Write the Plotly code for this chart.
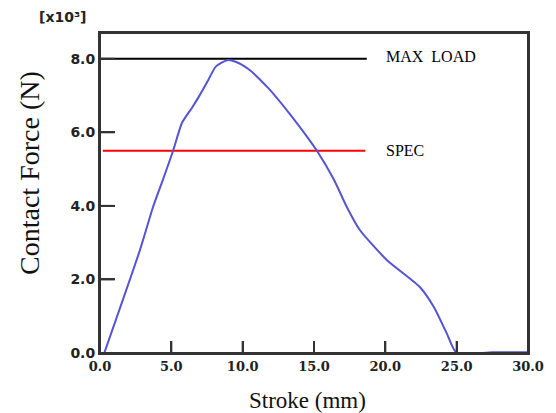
import plotly.graph_objects as go

# Data
stroke = [0.3, 2.8, 3.7, 4.4, 5.1, 5.75, 6.45, 6.9, 7.6, 8.1, 8.9, 9.5, 10.4, 11.8, 13.2,
          14.3, 15.25, 16.4, 17.3, 18.2, 20.1, 22.4, 23.4, 24.3, 25.0, 27.5, 30.0]
force = [0.0, 2.8, 3.95, 4.7, 5.47, 6.26, 6.67, 6.95, 7.43, 7.78, 7.96, 7.92, 7.72, 7.2, 6.55,
         5.99, 5.47, 4.71, 3.97, 3.35, 2.53, 1.8, 1.25, 0.54, 0.0, 0.02, 0.02]

max_load_x = [0.0, 18.7]
max_load_y = [8.0, 8.0]
spec_x = [0.2, 18.6]
spec_y = [5.5, 5.5]

x_ticks = [0, 5, 10, 15, 20, 25, 30]
y_ticks = [0, 2, 4, 6, 8]
x_range = [0, 30]
y_range = [0, 8.7]

AXIS_COLOR = "#333333"
PLOT_W, PLOT_H = 434, 320  # plot-area size in px (width/height minus margins)
X_TICK_LEN_PX, Y_TICK_LEN_PX = 12, 15

fig = go.Figure()
fig.add_trace(go.Scatter(x=max_load_x, y=max_load_y, mode="lines",
                         line=dict(color="#000000", width=2), showlegend=False))
fig.add_trace(go.Scatter(x=spec_x, y=spec_y, mode="lines",
                         line=dict(color="#ff0000", width=2), showlegend=False))
fig.add_trace(go.Scatter(x=stroke, y=force, mode="lines",
                         line=dict(color="#5454d4", width=2, shape="spline", smoothing=0.6),
                         showlegend=False))

# Inside tick marks, built from the tick lists and converted through the axis scales
x_tick_len = X_TICK_LEN_PX / PLOT_H * (y_range[1] - y_range[0])
y_tick_len = Y_TICK_LEN_PX / PLOT_W * (x_range[1] - x_range[0])
tick_x, tick_y = [], []
for v in x_ticks[1:-1]:
    tick_x += [v, v, None]
    tick_y += [y_range[0], y_range[0] + x_tick_len, None]
for v in y_ticks[1:]:
    tick_x += [x_range[0], x_range[0] + y_tick_len, None]
    tick_y += [v, v, None]
fig.add_trace(go.Scatter(x=tick_x, y=tick_y, mode="lines", connectgaps=False,
                         line=dict(color=AXIS_COLOR, width=2), showlegend=False,
                         hoverinfo="skip"))

serif = "Liberation Serif"
dserif = "DejaVu Serif"
sans = "DejaVu Sans"

fig.add_annotation(x=19.9, y=8.05, xref="x", yref="y", text="MAX  LOAD", showarrow=False,
                   xanchor="left", yanchor="middle", font=dict(family=serif, size=16, color="#000"))
fig.add_annotation(x=19.9, y=5.5, xref="x", yref="y", text="SPEC", showarrow=False,
                   xanchor="left", yanchor="middle", font=dict(family=serif, size=16, color="#000"))
fig.add_annotation(x=-0.088, y=1.05, xref="paper", yref="paper", text="<b>[x10³]</b>",
                   showarrow=False, xanchor="center", yanchor="middle",
                   font=dict(family=sans, size=14, color="#222"))
fig.add_annotation(x=-0.166, y=0.5625, xref="paper", yref="paper", text="Contact Force (N)",
                   showarrow=False, textangle=-90, xanchor="center", yanchor="middle",
                   font=dict(family=serif, size=28, color="#111"))
fig.add_annotation(x=0.485, y=-0.147, xref="paper", yref="paper", text="Stroke (mm)",
                   showarrow=False, xanchor="center", yanchor="middle",
                   font=dict(family=serif, size=23, color="#111"))

# Plot frame
fig.add_shape(type="rect", xref="paper", yref="paper", x0=0, x1=1, y0=0, y1=1,
              line=dict(color=AXIS_COLOR, width=2), layer="above")

fig.update_xaxes(range=x_range, tickvals=x_ticks, ticktext=["<b>%.1f</b>" % v for v in x_ticks],
                 ticks="inside", ticklen=12, tickwidth=2, tickcolor=AXIS_COLOR,
                 showline=True, linecolor=AXIS_COLOR, linewidth=2, mirror=True,
                 showgrid=False, zeroline=False,
                 tickfont=dict(family=dserif, size=13, color="#222"))
fig.update_yaxes(range=y_range, tickvals=y_ticks, ticktext=["<b>%.1f</b>" % v for v in y_ticks],
                 ticks="inside", ticklen=15, tickwidth=2, tickcolor=AXIS_COLOR,
                 showline=True, linecolor=AXIS_COLOR, linewidth=2, mirror=True,
                 showgrid=False, zeroline=False,
                 tickfont=dict(family=sans, size=14, color="#222"))

fig.update_layout(width=548, height=405, margin=dict(l=92, r=22, t=25, b=60),
                  paper_bgcolor="white", plot_bgcolor="white")

fig.write_html("out.html")
